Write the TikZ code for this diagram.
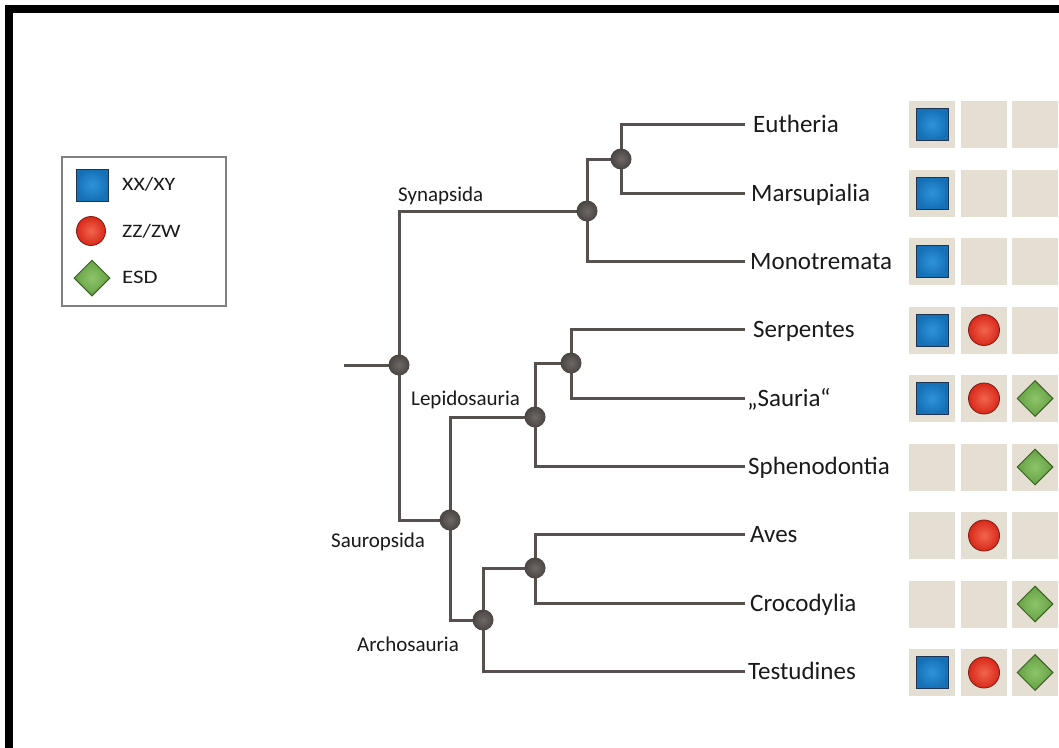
\documentclass[tikz,border=0pt]{standalone}
\usepackage{fontspec}
\setmainfont{Carlito}
\usetikzlibrary{shapes.geometric,backgrounds}
\definecolor{branch}{HTML}{56514F}
\definecolor{nodedark}{HTML}{4A4543}
\definecolor{nodelight}{HTML}{6E6966}
\definecolor{cellbg}{HTML}{E4DED3}
\definecolor{bluein}{HTML}{2F93DA}
\definecolor{blueout}{HTML}{1570B6}
\definecolor{blueedge}{HTML}{1D3550}
\definecolor{redin}{HTML}{F2664E}
\definecolor{redout}{HTML}{D8291B}
\definecolor{rededge}{HTML}{7E1A12}
\definecolor{greenin}{HTML}{8EC46B}
\definecolor{greenout}{HTML}{64A043}
\definecolor{greenedge}{HTML}{3C6024}
\definecolor{textc}{HTML}{1A1A1A}
\tikzset{
  br/.style={draw=branch, line width=3pt, line cap=rect, line join=miter},
  tn/.style={circle, inner sep=0pt, minimum size=21pt, inner color=nodelight, outer color=nodedark},
  cell/.style={rectangle, inner sep=0pt, minimum width=46pt, minimum height=47pt, fill=cellbg},
  bsq/.style={rectangle, inner sep=0pt, minimum size=32pt, draw=blueedge, line width=1pt, inner color=bluein, outer color=blueout},
  rci/.style={circle, inner sep=0pt, minimum size=31pt, draw=rededge, line width=0.8pt, inner color=redin, outer color=redout},
  gdi/.style={diamond, inner sep=0pt, minimum width=36pt, minimum height=36pt, draw=greenedge, line width=1pt, inner color=greenin, outer color=greenout},
  leaf/.style={anchor=base west, inner sep=0pt, text=textc, font=\fontsize{25}{30}\selectfont},
  clade/.style={anchor=base west, inner sep=0pt, text=textc, font=\fontsize{21}{25}\selectfont},
  legtxt/.style={anchor=base west, inner sep=0pt, text=textc, font=\fontsize{19}{23}\selectfont},
}
\begin{document}
\begin{tikzpicture}[x=1pt,y=-1pt]
\useasboundingbox (0,0) rectangle (1059,747);
\clip (0,0) rectangle (1059,747);

% tree nodes
\node[tn] (root) at (399,365) {};
\node[tn] (syn)  at (587,211) {};
\node[tn] (eum)  at (621,159) {};
\node[tn] (saur) at (450,520) {};
\node[tn] (lep)  at (535,417) {};
\node[tn] (squ)  at (571,363) {};
\node[tn] (arch) at (483,620) {};
\node[tn] (avc)  at (535,568) {};
\coordinate (stub) at (345,365);
\coordinate (tEut) at (743,124);
\coordinate (tMar) at (743,193);
\coordinate (tMon) at (743,261);
\coordinate (tSer) at (743,329);
\coordinate (tSau) at (743,398);
\coordinate (tSph) at (743,466);
\coordinate (tAve) at (743,534);
\coordinate (tCro) at (743,603);
\coordinate (tTes) at (743,671);

\begin{pgfonlayer}{background}
\fill[white] (0,0) rectangle (1059,747);
\draw[line width=8pt] (9,760) -- (9,9) -- (1070,9);
\draw[br] (stub) -- (root.center);
\draw[br] (root.center) |- (syn.center);
\draw[br] (root.center) |- (saur.center);
\draw[br] (syn.center) |- (eum.center);
\draw[br] (syn.center) |- (tMon);
\draw[br] (eum.center) |- (tEut);
\draw[br] (eum.center) |- (tMar);
\draw[br] (saur.center) |- (lep.center);
\draw[br] (saur.center) |- (arch.center);
\draw[br] (lep.center) |- (squ.center);
\draw[br] (lep.center) |- (tSph);
\draw[br] (squ.center) |- (tSer);
\draw[br] (squ.center) |- (tSau);
\draw[br] (arch.center) |- (avc.center);
\draw[br] (arch.center) |- (tTes);
\draw[br] (avc.center) |- (tAve);
\draw[br] (avc.center) |- (tCro);
\end{pgfonlayer}

% clade labels
\node[clade] (lSyn) at (398,201) {Synapsida};
\node[clade] (lLep) at (411,405) {Lepidosauria};
\node[clade] (lSaur) at (331,547) {Sauropsida};
\node[clade] (lArch) at (357,651) {Archosauria};

% leaf labels
\node[leaf] (nEut) at (753,132) {Eutheria};
\node[leaf] (nMar) at (751,201) {Marsupialia};
\node[leaf] (nMon) at (750,269) {Monotremata};
\node[leaf] (nSer) at (753,337) {Serpentes};
\node[leaf] (nSau) at (747,406) {„Sauria“};
\node[leaf] (nSph) at (748,474) {Sphenodontia};
\node[leaf] (nAve) at (750,542) {Aves};
\node[leaf] (nCro) at (750,611) {Crocodylia};
\node[leaf] (nTes) at (748,679) {Testudines};

% character matrix
\foreach \yy/\a/\b/\c [count=\i] in {124.5/1/0/0, 193/1/0/0, 261.5/1/0/0, 330/1/1/0, 398.5/1/1/1, 467/0/0/1, 535.5/0/1/0, 604/0/0/1, 672.5/1/1/1}{
  \node[cell] (r\i c1) at (932,\yy) {};
  \node[cell] (r\i c2) at (984,\yy) {};
  \node[cell] (r\i c3) at (1035,\yy) {};
  \ifnum\a=1 \node[bsq] (s\i a) at (r\i c1) {}; \fi
  \ifnum\b=1 \node[rci] (s\i b) at (r\i c2) {}; \fi
  \ifnum\c=1 \node[gdi] (s\i c) at (r\i c3) {}; \fi
}

% legend
\node[draw=black!50, line width=1.2pt, fill=white, minimum width=164pt, minimum height=149pt, inner sep=0pt] (legend) at (144,231.5) {};
\node[bsq] (kB) at (92,185) {};
\node[rci, minimum size=29pt] (kR) at (91,231) {};
\node[gdi] (kG) at (92,278) {};
\node[legtxt] (tB) at (122,190) {\scalebox{1.15}[1]{XX/XY}};
\node[legtxt] (tR) at (122,237) {\scalebox{1.15}[1]{ZZ/ZW}};
\node[legtxt] (tG) at (122,283) {\scalebox{1.2}[1]{ESD}};
\end{tikzpicture}
\end{document}
